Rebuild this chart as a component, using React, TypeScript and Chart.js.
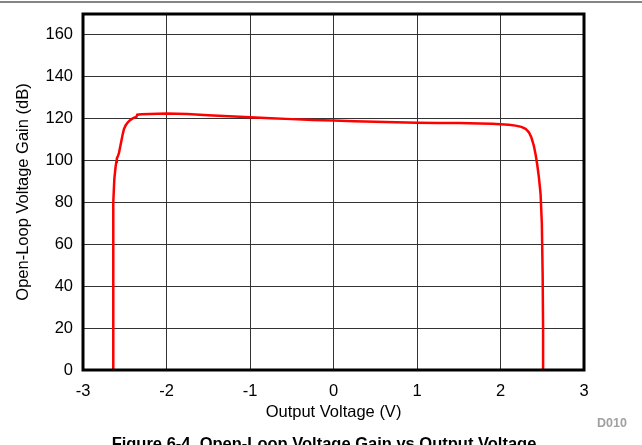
import React, { useEffect, useRef } from "react";
import { Chart, registerables } from "chart.js";

Chart.register(...registerables);

// Output voltage (V) and open-loop gain (dB)
const outputVoltage = [
  -2.64, -2.64, -2.635, -2.625, -2.61, -2.6, -2.595, -2.585, -2.57, -2.555, -2.54, -2.525,
  -2.51, -2.49, -2.465, -2.44, -2.41, -2.38, -2.36, -2.35, -2.3, -2.2, -2.0, -1.75, -1.5,
  -1.25, -1.0, -0.75, -0.5, -0.25, 0, 0.25, 0.5, 0.75, 1.0, 1.25, 1.5, 1.75, 1.9, 2.0, 2.1,
  2.18, 2.25, 2.3, 2.34, 2.37, 2.4, 2.42, 2.44, 2.46, 2.48, 2.495, 2.505, 2.51, 2.51,
];
const gainDb = [
  0, 40, 80, 91, 97, 99.5, 101, 101.8, 103.5, 106.5, 109.5, 112.5,
  115, 116.8, 118.2, 119.2, 120, 120.6, 120.9, 121.9, 122.1, 122.3, 122.5, 122.2, 121.7,
  121.2, 120.7, 120.2, 119.8, 119.4, 119.1, 118.8, 118.5, 118.3, 118.1, 118.0, 117.9, 117.7, 117.6, 117.4, 117.1,
  116.7, 116.1, 115.2, 113.5, 111, 107, 103, 98, 92, 84, 70, 45, 20, 0,
];

const xTicksMin = -3;
const xTicksMax = 3;
const yTicksMin = 0;
const yTicksMax = 170;

const xTitle = "Output Voltage (V)";
const yTitle = "Open-Loop Voltage Gain (dB)";
const caption = "Figure 6-4. Open-Loop Voltage Gain vs Output Voltage";
const figureId = "D010";

const FONT = '"Liberation Sans", Arial, Helvetica, sans-serif';

const framePlugin = {
  id: "frame",
  afterDraw(chart: any) {
    const { ctx, chartArea } = chart;
    ctx.save();
    ctx.strokeStyle = "#000";
    ctx.lineWidth = 3;
    ctx.strokeRect(
      chartArea.left,
      chartArea.top,
      chartArea.right - chartArea.left,
      chartArea.bottom - chartArea.top
    );
    ctx.restore();
  },
};

export default function App() {
  const ref = useRef<HTMLCanvasElement | null>(null);

  useEffect(() => {
    if (!ref.current) return;
    const points = outputVoltage.map((x, i) => ({ x, y: gainDb[i] }));
    const chart = new Chart(ref.current, {
      type: "scatter",
      data: {
        datasets: [
          {
            data: points,
            showLine: true,
            borderColor: "#ff0000",
            borderWidth: 2.5,
            pointRadius: 0,
            tension: 0,
            fill: false,
          },
        ],
      },
      options: {
        animation: false,
        responsive: false,
        devicePixelRatio: 1,
        layout: { padding: { left: 0, top: 14, right: 58, bottom: 0 } },
        plugins: {
          legend: { display: false },
          tooltip: { enabled: false },
        },
        scales: {
          x: {
            type: "linear",
            min: xTicksMin,
            max: xTicksMax,
            afterFit(scale: any) {
              scale.height = 75;
              scale.paddingLeft = 0;
              scale.paddingRight = 0;
            },
            ticks: {
              stepSize: 1,
              color: "#000",
              font: { family: FONT, size: 16.5 },
              padding: 12,
              maxRotation: 0,
            },
            grid: { color: "#333", lineWidth: 1, drawTicks: false },
            border: { display: false },
            title: {
              display: true,
              text: xTitle,
              color: "#000",
              font: { family: FONT, size: 16.5 },
              padding: { top: 0, bottom: 23 },
            },
          },
          y: {
            type: "linear",
            min: yTicksMin,
            max: yTicksMax,
            afterFit(scale: any) {
              scale.width = 83;
              scale.paddingTop = 0;
              scale.paddingBottom = 0;
            },
            ticks: {
              stepSize: 10,
              color: "#000",
              font: { family: FONT, size: 16.5 },
              padding: 10,
              callback: (v: any) => (Number(v) % 20 === 0 ? String(v) : ""),
            },
            grid: { color: "#333", lineWidth: 1, drawTicks: false },
            border: { display: false },
            title: {
              display: true,
              text: yTitle,
              color: "#000",
              font: { family: FONT, size: 16.5 },
              padding: { top: 14, bottom: 0 },
            },
          },
        },
      },
      plugins: [framePlugin],
    });
    return () => chart.destroy();
  }, []);

  return (
    <div
      style={{
        position: "fixed",
        left: 0,
        top: 0,
        width: 642,
        height: 445,
        overflow: "hidden",
        background: "#fff",
        fontFamily: FONT,
      }}
    >
      <div
        style={{
          position: "absolute",
          left: 0,
          top: 1,
          width: 642,
          height: 2,
          background: "#858585",
        }}
      />
      <canvas
        ref={ref}
        width={642}
        height={445}
        style={{ position: "absolute", left: 0, top: 0, width: 642, height: 445 }}
      />
      <div
        style={{
          position: "absolute",
          left: 597,
          top: 415,
          fontSize: 12.5,
          fontWeight: "bold",
          color: "#a0a0a0",
          lineHeight: "16px",
        }}
      >
        {figureId}
      </div>
      <div
        style={{
          position: "absolute",
          left: 0,
          width: 648,
          top: 433,
          textAlign: "center",
          fontSize: 16.5,
          fontWeight: "bold",
          color: "#000",
          lineHeight: "20px",
          whiteSpace: "nowrap",
        }}
      >
        {caption}
      </div>
    </div>
  );
}
